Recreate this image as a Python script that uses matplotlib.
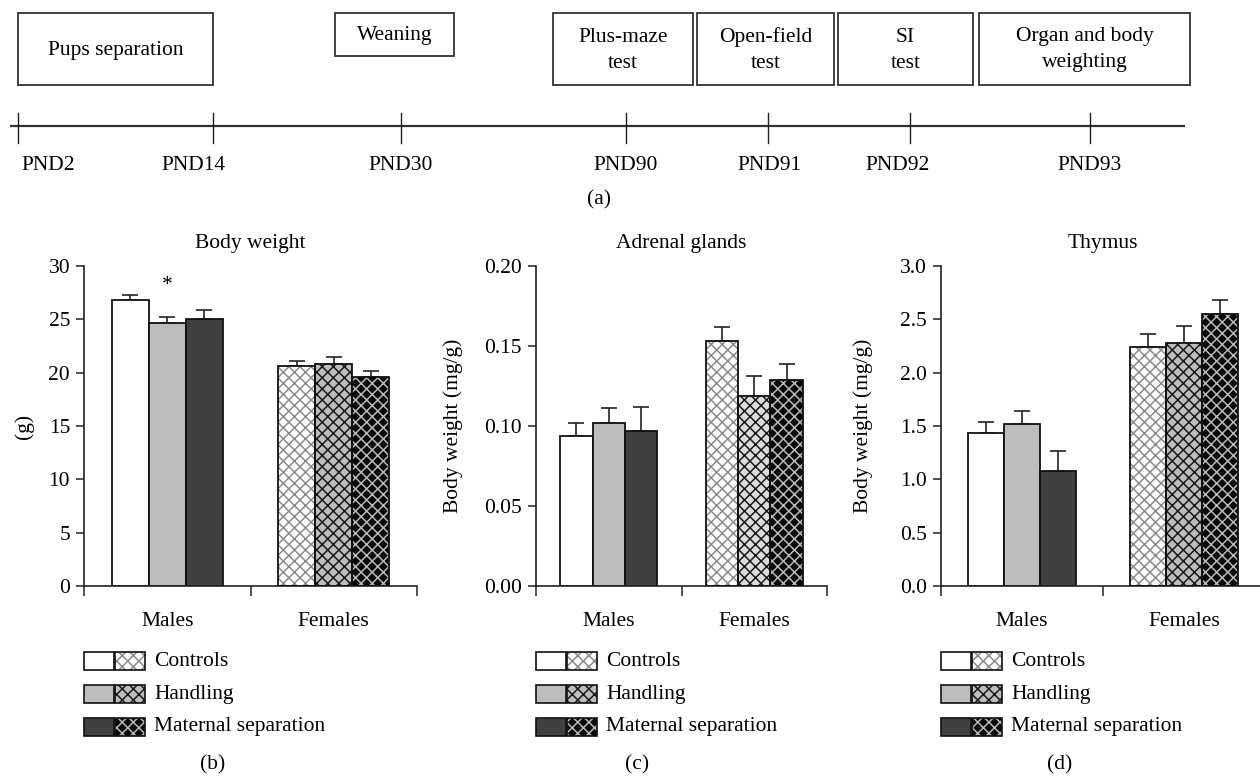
import matplotlib
matplotlib.use("Agg")
import matplotlib.pyplot as plt
from matplotlib.patches import Rectangle
import numpy as np

plt.rcParams['font.family'] = ['Liberation Serif', 'DejaVu Serif']
plt.rcParams['hatch.linewidth'] = 1.1
FS = 15.5

# ---------------- data ----------------
groups = ["Males", "Females"]
treatments = ["Controls", "Handling", "Maternal separation"]

body_males = [26.8, 24.7, 25.0]
body_males_err = [0.5, 0.5, 0.9]
body_females = [20.6, 20.8, 19.6]
body_females_err = [0.5, 0.7, 0.6]

adrenal_males = [0.094, 0.102, 0.097]
adrenal_males_err = [0.008, 0.009, 0.015]
adrenal_females = [0.153, 0.119, 0.129]
adrenal_females_err = [0.009, 0.012, 0.010]

thymus_males = [1.43, 1.52, 1.08]
thymus_males_err = [0.11, 0.12, 0.19]
thymus_females = [2.24, 2.28, 2.55]
thymus_females_err = [0.12, 0.16, 0.13]

timeline_days = ["PND2", "PND14", "PND30", "PND90", "PND91", "PND92", "PND93"]
events = ["Pups separation", "Weaning", "Plus-maze\ntest", "Open-field\ntest",
          "SI\ntest", "Organ and body\nweighting"]

# ---------------- styles ----------------
male_colors = ['white', '#BDBDBD', '#404040']
female_faces = ['white', '#BDBDBD', '#080808']
female_hatch_cols = ['#8C8C8C', '#1A1A1A', '#B8B8B8']

W, H = 1260, 777
fig = plt.figure(figsize=(W / 100, H / 100), dpi=100)

# overlay axes in pixel coordinates
ov = fig.add_axes([0, 0, 1, 1], zorder=5)
ov.set_xlim(0, W)
ov.set_ylim(H, 0)
ov.axis('off')
ov.patch.set_alpha(0)

# ---- timeline (a) ----
tick_x = [18, 213, 401, 626, 768, 910, 1090]
label_x = [48, 194, 401, 626, 769, 898, 1090]
ov.plot([10, 1185], [126, 126], color='#333333', lw=1.6, solid_capstyle='butt')
for tx, lx, lab in zip(tick_x, label_x, timeline_days):
    ov.plot([tx, tx], [113, 143], color='#222222', lw=1.0)
    ov.text(lx, 165, lab, ha='center', va='center', fontsize=FS)

box_x = [(18, 213), (335, 454), (553, 693), (697, 834), (838, 973), (979, 1190)]
box_y = [(13, 85), (13, 56), (13, 85), (13, 85), (13, 85), (13, 85)]
for (x0, x1), (y0, y1), ev in zip(box_x, box_y, events):
    ov.add_patch(Rectangle((x0, y0), x1 - x0, y1 - y0, fill=False,
                           edgecolor='#333333', lw=1.3))
    ov.text((x0 + x1) / 2, (y0 + y1) / 2 + 1, ev, ha='center', va='center',
            fontsize=FS, linespacing=1.5)
ov.text(599, 200, "(a)", ha='center', va='center', fontsize=FS)


def panel(rect, males, males_err, females, females_err, ylim, yticks, fmt,
          title, ylabel, ylabel_x, female_faces_p, legend_x0, panel_label, label_x_pos):
    x0, x1, ytop, ybot = rect
    ax = fig.add_axes([x0 / W, 1 - ybot / H, (x1 - x0) / W, (ybot - ytop) / H])
    w = 0.222
    xs_m = 0.5 + np.array([-w, 0, w])
    xs_f = 1.5 + np.array([-w, 0, w])
    ax.bar(xs_m, males, w, color=male_colors, edgecolor='#111111', lw=1.3, zorder=2)
    for xf, v, fc, hc in zip(xs_f, females, female_faces_p, female_hatch_cols):
        ax.bar(xf, v, w, color=fc, edgecolor=hc, hatch='xxx', lw=0, zorder=2)
        ax.bar(xf, v, w, fill=False, edgecolor='#111111', lw=1.3, zorder=3)
    ax.errorbar(xs_m, males, yerr=[np.zeros(3), males_err], fmt='none',
                ecolor='#222222', elinewidth=1.2, capsize=6, capthick=1.2, zorder=1)
    ax.errorbar(xs_f, females, yerr=[np.zeros(3), females_err], fmt='none',
                ecolor='#222222', elinewidth=1.2, capsize=6, capthick=1.2, zorder=1)
    ax.set_xlim(0, 2)
    ax.set_ylim(*ylim)
    ax.set_yticks(yticks)
    ax.set_yticklabels([fmt.format(t) for t in yticks], fontsize=FS)
    ax.set_xticks([0, 1, 2])
    ax.set_xticklabels([])
    ax.set_xticks([0.5, 1.5], minor=True)
    ax.set_xticklabels(groups, minor=True, fontsize=FS)
    ax.tick_params(axis='x', which='minor', length=0, pad=19)
    ax.tick_params(axis='x', which='major', length=7, width=1.1, direction='out', color='#222222')
    ax.tick_params(axis='y', length=6, width=1.1, direction='out', color='#222222', pad=4)
    for s in ['top', 'right']:
        ax.spines[s].set_visible(False)
    for s in ['left', 'bottom']:
        ax.spines[s].set_linewidth(1.2)
        ax.spines[s].set_color('#222222')
    ax.patch.set_alpha(0)
    ax.set_title(title, fontsize=FS, pad=13)
    ax.set_ylabel(ylabel, fontsize=FS)
    ax.yaxis.set_label_coords(ylabel_x, 0.5)

    # legend
    rows_y = [652, 685, 718]
    for ry, mc, ff, hc, name in zip(rows_y, male_colors, female_faces, female_hatch_cols, treatments):
        ov.add_patch(Rectangle((legend_x0, ry), 30, 18, facecolor=mc,
                               edgecolor='#111111', lw=1.2))
        ov.add_patch(Rectangle((legend_x0 + 31, ry), 30, 18, facecolor=ff,
                               edgecolor=hc, hatch='xxx', lw=0))
        ov.add_patch(Rectangle((legend_x0 + 31, ry), 30, 18, fill=False,
                               edgecolor='#111111', lw=1.2))
        ov.text(legend_x0 + 70, ry + 9, name, ha='left', va='center', fontsize=FS)
    ov.text(label_x_pos, 765, panel_label, ha='center', va='center', fontsize=FS)
    return ax


ax_b = panel((84, 417, 266, 586), body_males, body_males_err, body_females, body_females_err,
             (0, 30), [0, 5, 10, 15, 20, 25, 30], "{:.0f}", "Body weight", "(g)", -0.15,
             female_faces, 84, "(b)", 213)
ax_b.text(0.5, 28.2, "*", ha='center', va='center', fontsize=FS)

panel((536, 827, 266, 586), adrenal_males, adrenal_males_err, adrenal_females, adrenal_females_err,
      (0, 0.20), [0.00, 0.05, 0.10, 0.15, 0.20], "{:.2f}", "Adrenal glands",
      "Body weight (mg/g)", -0.25, ['white', '#DCDCDC', '#080808'], 536, "(c)", 637)

panel((941, 1265, 266, 586), thymus_males, thymus_males_err, thymus_females, thymus_females_err,
      (0, 3.0), [0.0, 0.5, 1.0, 1.5, 2.0, 2.5, 3.0], "{:.1f}", "Thymus",
      "Body weight (mg/g)", -0.21, female_faces, 941, "(d)", 1060)

fig.savefig("out.png", dpi=100)
